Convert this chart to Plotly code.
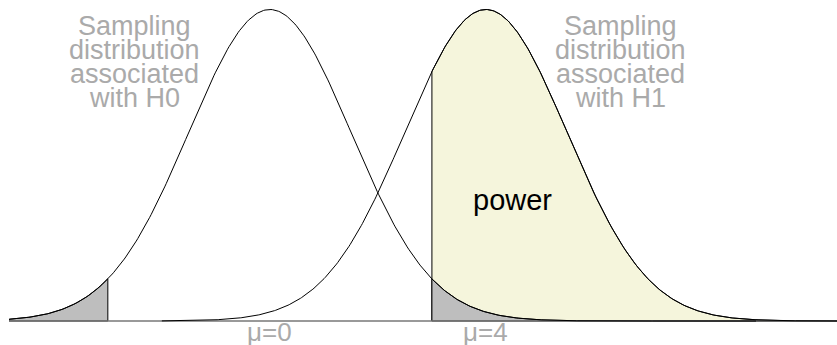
import numpy as np
import plotly.graph_objects as go

# distribution parameters
means = [0, 4]          # mu under H0, mu under H1
sd = 1.5
crit = [-3, 3]          # critical values (two-sided test under H0)
x_range = [-4.83, 10.5]
h0_lines = ["Sampling", "distribution", "associated", "with H0"]
h1_lines = ["Sampling", "distribution", "associated", "with H1"]
mu_labels = ["\u03bc=0", "\u03bc=4"]
power_label = "power"

W, H = 837, 345
GRAY_TXT = "#aaaaaa"
GRAY_FILL = "#bebebe"
BEIGE = "#f5f5dc"
FONT = "Liberation Sans, Arial, Helvetica, sans-serif"


def pdf(x, m):
    return np.exp(-0.5 * ((x - m) / sd) ** 2) / (sd * np.sqrt(2 * np.pi))


peak = pdf(means[0], means[0])
base_px, peak_px = 321.0, 9.5
per_px = peak / (base_px - peak_px)
y1 = peak + peak_px * per_px
y0 = -(H - base_px) * per_px

fig = go.Figure()

# power region under H1 beyond upper critical value
xp = np.linspace(crit[1], x_range[1], 300)
fig.add_trace(go.Scatter(
    x=np.concatenate([[crit[1]], xp, [x_range[1]]]),
    y=np.concatenate([[0], pdf(xp, means[1]), [0]]),
    fill="toself", fillcolor=BEIGE, mode="lines",
    line=dict(color="black", width=1), hoverinfo="skip"))

# alpha regions under H0
xl = np.linspace(x_range[0], crit[0], 200)
fig.add_trace(go.Scatter(
    x=np.concatenate([[x_range[0]], xl, [crit[0]], [x_range[0]]]),
    y=np.concatenate([[0], pdf(xl, means[0]), [0], [0]]),
    fill="toself", fillcolor=GRAY_FILL, mode="lines",
    line=dict(color="black", width=1), hoverinfo="skip"))
xr = np.linspace(crit[1], x_range[1], 300)
fig.add_trace(go.Scatter(
    x=np.concatenate([[crit[1]], xr, [crit[1]]]),
    y=np.concatenate([[0], pdf(xr, means[0]), [0]]),
    fill="toself", fillcolor=GRAY_FILL, mode="lines",
    line=dict(color="black", width=1), hoverinfo="skip"))

# baseline
fig.add_trace(go.Scatter(x=x_range, y=[0, 0], mode="lines",
                         line=dict(color="#777777", width=1.5), hoverinfo="skip"))

# density curves
x0 = np.linspace(x_range[0], means[0] + 6 * sd, 500)
fig.add_trace(go.Scatter(x=x0, y=pdf(x0, means[0]), mode="lines",
                         line=dict(color="black", width=1), hoverinfo="skip"))
x1 = np.linspace(means[1] - 4 * sd, x_range[1], 600)
fig.add_trace(go.Scatter(x=x1, y=pdf(x1, means[1]), mode="lines",
                         line=dict(color="black", width=1), hoverinfo="skip"))


def py(px):
    return 1 - px / H


line_px = [26, 50, 74, 98]
for i, t in enumerate(h0_lines):
    fig.add_annotation(x=means[0] - 2.5, y=py(line_px[i]), xref="x", yref="paper",
                       text=t, showarrow=False, xanchor="center", yanchor="middle",
                       font=dict(family=FONT, size=27, color=GRAY_TXT))
for i, t in enumerate(h1_lines):
    fig.add_annotation(x=means[1] + 2.5, y=py(line_px[i]), xref="x", yref="paper",
                       text=t, showarrow=False, xanchor="center", yanchor="middle",
                       font=dict(family=FONT, size=27, color=GRAY_TXT))
for m, t in zip(means, mu_labels):
    fig.add_annotation(x=m, y=py(332), xref="x", yref="paper", text=t,
                       showarrow=False, xanchor="center", yanchor="middle",
                       font=dict(family=FONT, size=26, color=GRAY_TXT))
fig.add_annotation(x=means[1] + 0.5, y=py(200), xref="x", yref="paper",
                   text=power_label, showarrow=False, xanchor="center", yanchor="middle",
                   font=dict(family=FONT, size=29, color="black"))

fig.update_layout(
    width=W, height=H, showlegend=False,
    margin=dict(l=9, r=0, t=0, b=0),
    paper_bgcolor="white", plot_bgcolor="white",
    xaxis=dict(range=x_range, visible=False, fixedrange=True),
    yaxis=dict(range=[y0, y1], visible=False, fixedrange=True),
)
fig.write_html("out.html", config={"displayModeBar": False},
               post_script="document.body.style.margin='0';document.body.style.overflow='hidden';")
